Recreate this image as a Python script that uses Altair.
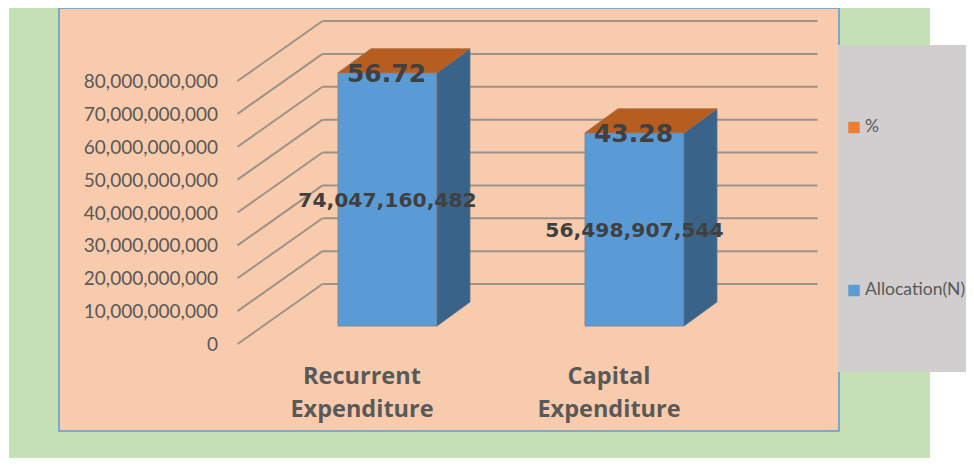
import altair as alt
import pandas as pd

categories = ["Recurrent\nExpenditure", "Capital\nExpenditure"]
allocation = [74047160482, 56498907544]
percent = [56.72, 43.28]
allocation_labels = ["74,047,160,482", "56,498,907,544"]
percent_labels = ["56.72", "43.28"]
tick_values = [0, 1e10, 2e10, 3e10, 4e10, 5e10, 6e10, 7e10, 8e10]
tick_labels = ["0", "10,000,000,000", "20,000,000,000", "30,000,000,000", "40,000,000,000",
               "50,000,000,000", "60,000,000,000", "70,000,000,000", "80,000,000,000"]
legend_names = ["%", "Allocation(N)"]
legend_colors = ["#ED7D31", "#5B9BD5"]

W, H = 958, 450
PEACH, GREEN, GREY = "#F8CBAD", "#C5E0B4", "#D0CECE"
FRONT, SIDE, TOP = "#5B9BD5", "#3A6389", "#B65E20"
GRID = "#9C9289"
TEXT = "#595959"
DARK = "#404040"

# x scale: one unit is the distance between the two categories
STEP = 247.0
ORIGIN = 379.5
x_scale = alt.Scale(domain=[-ORIGIN / STEP, (W - ORIGIN) / STEP], range=[0, W], nice=False, zero=False)
HALF = 49.5 / STEP
BAR_DX = 33 / STEP

# wall scale (gridlines, tick labels)
WALL_PX = 3.2875e-9
WALL_BASE = 336.0
wall_scale = alt.Scale(domain=[-(H - WALL_BASE) / WALL_PX, WALL_BASE / WALL_PX], range=[H, 0], nice=False, zero=False)
WALL_DY = 60 / WALL_PX
WALL_LEFT = (229.5 - ORIGIN) / STEP
WALL_BACK = (314.5 - ORIGIN) / STEP
WALL_RIGHT = (809.5 - ORIGIN) / STEP
LABEL_X = (210 - ORIGIN) / STEP

# bar scale
BAR_PX = 3.42e-9
BAR_BASE = 318.0
bar_scale = alt.Scale(domain=[-(H - BAR_BASE) / BAR_PX, BAR_BASE / BAR_PX], range=[H, 0], nice=False, zero=False)
BAR_DY = 24 / BAR_PX


def qx(f):
    return alt.X(f, type="quantitative", scale=x_scale, axis=None)


def yw(f):
    return alt.Y(f, type="quantitative", scale=wall_scale, axis=None)


def yb(f):
    return alt.Y(f, type="quantitative", scale=bar_scale, axis=None, stack=None)


def x2(f):
    return alt.X2(f)


def panel(x0, x1, y0, y1, fill, **kw):
    d = pd.DataFrame({"panel": [fill]})
    return alt.Chart(d).mark_rect(fill=fill, **kw).encode(
        x=alt.value(x0), x2=alt.value(x1), y=alt.value(y0), y2=alt.value(y1))


ticks = pd.DataFrame({"v": tick_values, "label": tick_labels})
ticks["back"] = ticks["v"] + WALL_DY
ticks["xl"] = WALL_LEFT
ticks["xb"] = WALL_BACK
ticks["xr"] = WALL_RIGHT
ticks["xt"] = LABEL_X

slant = alt.Chart(ticks).mark_rule(color=GRID, strokeWidth=2).encode(
    x=qx("xl"), x2=x2("xb"), y=yw("v"), y2=alt.Y2("back"))
back = alt.Chart(ticks).mark_rule(color=GRID, strokeWidth=2).encode(
    x=qx("xb"), x2=x2("xr"), y=yw("back"))
tick_text = alt.Chart(ticks).mark_text(align="right", baseline="middle", dy=1, font="Lato", fontSize=19, color=TEXT).encode(
    x=qx("xt"), y=yw("v"), text="label:N")

bars = pd.DataFrame({"i": [0, 1], "v": allocation, "cat": categories,
                     "alab": allocation_labels, "plab": percent_labels, "p": percent})
bars["x0"] = bars["i"] - HALF
bars["x1"] = bars["i"] + HALF
bars["zero"] = 0.0
bars["mid"] = bars["v"] / 2
bars["xc"] = bars["i"]
bars["xcat"] = bars["i"] - 25.5 / STEP

front = alt.Chart(bars).mark_rect(fill=FRONT, stroke="#7C8A98", strokeWidth=1).encode(
    x=qx("x0"), x2=x2("x1"), y=yb("v"), y2=alt.Y2("zero"))

side_rows, top_rows = [], []
for i, v in enumerate(allocation):
    xa, xb = i + HALF, i + HALF + BAR_DX
    side_rows += [{"i": i, "x": xa, "y": v, "y2": 0.0},
                  {"i": i, "x": xb, "y": v + BAR_DY, "y2": BAR_DY}]
    xl = i - HALF
    top_rows += [{"i": i, "x": xl, "y": v, "y2": v},
                 {"i": i, "x": xl + BAR_DX, "y": v + BAR_DY, "y2": v},
                 {"i": i, "x": xa, "y": v + BAR_DY, "y2": v},
                 {"i": i, "x": xb, "y": v + BAR_DY, "y2": v + BAR_DY}]

side = alt.Chart(pd.DataFrame(side_rows)).mark_area(fill=SIDE, orient="vertical", stroke="#5F7488", strokeWidth=0.8).encode(
    x=qx("x"), y=yb("y"), y2=alt.Y2("y2"), detail="i:N")
top = alt.Chart(pd.DataFrame(top_rows)).mark_area(fill=TOP, orient="vertical", stroke="#A56A3E", strokeWidth=0.8).encode(
    x=qx("x"), y=yb("y"), y2=alt.Y2("y2"), detail="i:N")

alloc_text = alt.Chart(bars).mark_text(font="DejaVu Sans", fontWeight="bold", fontSize=20.3, color=DARK, baseline="middle", dy=1.5).encode(
    x=qx("xc"), y=yb("mid"), text="alab:N")
pct_text = alt.Chart(bars).mark_text(font="DejaVu Sans", fontWeight="bold", fontSize=25, color=DARK, baseline="middle", dy=1, dx=-1).encode(
    x=qx("xc"), y=yb("v"), text="plab:N")
cat_text = alt.Chart(bars).mark_text(font="Open Sans", fontWeight="bold", fontSize=23.5, color=TEXT, baseline="top",
                                     lineBreak="\n", lineHeight=33).encode(
    x=qx("xcat"), y=alt.value(357), text="cat:N")

px_y = alt.Scale(domain=[0, H], range=[0, H])
legend = pd.DataFrame({"name": legend_names, "color": legend_colors, "ytxt": [119, 282], "ysq": [119.5, 282.5]})
leg_sq = alt.Chart(legend).mark_square(size=130, opacity=1).encode(
    x=alt.value(846), y=alt.Y("ysq:Q", scale=px_y, axis=None),
    color=alt.Color("color:N", scale=None))
leg_txt = alt.Chart(legend).mark_text(align="left", baseline="middle", font="Lato", fontSize=17.5, color=TEXT).encode(
    x=alt.value(857), y=alt.Y("ytxt:Q", scale=px_y, axis=None), text="name:N")

chart = alt.layer(
    panel(1, 922, 0, H, GREEN),
    panel(51, 831, 0, 423, PEACH, stroke="#5B9BD5", strokeWidth=1.5),
    panel(830, W, 37, 364, GREY),
    slant, back, tick_text,
    front, side, top,
    alloc_text, pct_text, cat_text,
    leg_sq, leg_txt,
).resolve_scale(y="independent").properties(
    width=W, height=H, padding=0, autosize=alt.AutoSizeParams(type="none"),
    background="white",
).configure_view(stroke=None)

chart.save("out.html", embed_options={"renderer": "svg", "actions": False})
